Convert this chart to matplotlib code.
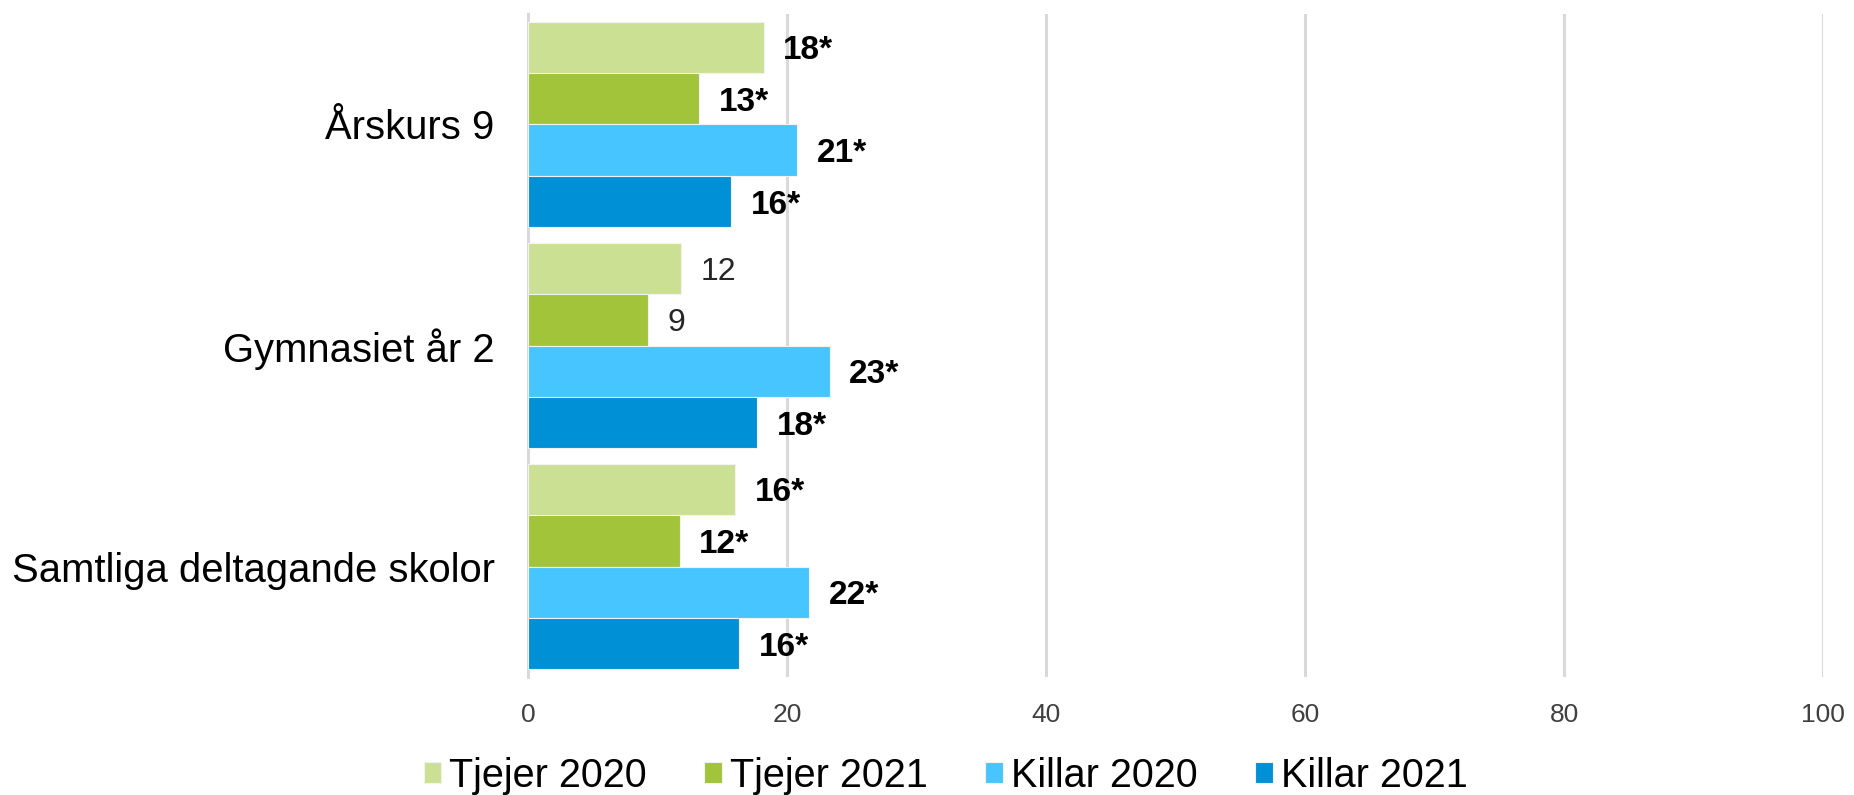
import matplotlib
matplotlib.use("Agg")
import matplotlib.pyplot as plt
import numpy as np

categories = ["Årskurs 9", "Gymnasiet år 2", "Samtliga deltagande skolor"]
series_names = ["Tjejer 2020", "Tjejer 2021", "Killar 2020", "Killar 2021"]
tjejer_2020 = [18.2, 11.8, 16.0]
tjejer_2021 = [13.2, 9.3, 11.7]
killar_2020 = [20.8, 23.3, 21.7]
killar_2021 = [15.7, 17.7, 16.3]
label_tjejer_2020 = ["18*", "12", "16*"]
label_tjejer_2021 = ["13*", "9", "12*"]
label_killar_2020 = ["21*", "23*", "22*"]
label_killar_2021 = ["16*", "18*", "16*"]
x_ticks = [0, 20, 40, 60, 80, 100]

colors = ["#CCE094", "#A1C43A", "#47C5FF", "#0090D5"]

plt.rcParams['font.family'] = ['Liberation Sans', 'DejaVu Sans']

fig = plt.figure(figsize=(18.54, 7.95), dpi=100)
ax = fig.add_axes([0.2848, 0.1484, 0.6985, 0.834])

values = [tjejer_2020, tjejer_2021, killar_2020, killar_2021]
labels = [label_tjejer_2020, label_tjejer_2021, label_killar_2020, label_killar_2021]
n = len(series_names)
group_w = 0.93
bar_h = group_w / n
y = np.arange(len(categories))

for i, (name, vals, labs, c) in enumerate(zip(series_names, values, labels, colors)):
    pos = y - group_w / 2 + bar_h * (i + 0.5)
    bars = ax.barh(pos, vals, height=bar_h, color=c, label=name,
                   edgecolor="#F2F2F2", linewidth=0.8, zorder=3)
    for b, v, lab in zip(bars, vals, labs):
        bold = "*" in lab
        ax.annotate(lab, xy=(v, b.get_y() + b.get_height() / 2),
                    xytext=(14, -2.5), textcoords="offset points",
                    va="center", ha="left",
                    fontsize=24 if bold else 23,
                    fontweight="bold" if bold else "normal",
                    color="#000000" if bold else "#262626", zorder=4)

ax.set_ylim(len(categories) - 0.5, -0.5)
ax.set_xlim(0, 100)
ax.set_xticks(x_ticks)
ax.set_xticklabels([str(t) for t in x_ticks], fontsize=19, color="#404040")
ax.set_yticks(y)
ax.set_yticklabels(categories, fontsize=28.8, color="#000000")
ax.tick_params(axis="x", length=0, pad=19)
ax.tick_params(axis="y", length=0, pad=24)
ax.xaxis.grid(True, color="#D9D9D9", linewidth=2.2, zorder=0)
ax.set_axisbelow(True)
for s in ["top", "right", "bottom"]:
    ax.spines[s].set_visible(False)
ax.spines["left"].set_color("#D9D9D9")
ax.spines["left"].set_linewidth(2.2)

handles, leg_labels = ax.get_legend_handles_labels()
leg = fig.legend(handles, leg_labels, loc="center", bbox_to_anchor=(0.51, 0.024),
                 ncol=4, frameon=False, fontsize=28.5, handlelength=0.45,
                 handleheight=0.45, handletextpad=0.2, columnspacing=1.45)

fig.savefig("out.png", dpi=100)
